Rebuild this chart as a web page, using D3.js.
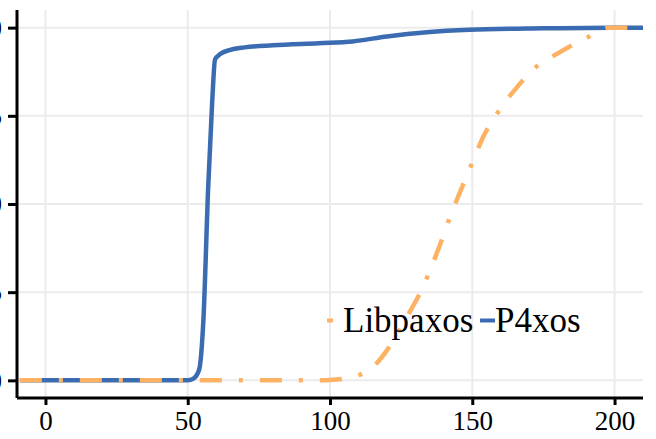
<!DOCTYPE html>
<html>
<head>
<meta charset="utf-8">
<script src="https://cdn.jsdelivr.net/npm/d3@7"></script>
<style>
  html, body { margin: 0; padding: 0; background: #fff; }
  svg { display: block; font-family: "Liberation Serif", "Times New Roman", serif; }
</style>
</head>
<body>
<div id="chart"></div>
<script>
// latency CDF values
const seriesNames = ['Libpaxos', 'P4xos'];

const p4xosX = [-9, 50, 52, 54, 55.5, 57.2, 58.6, 59.6, 61.4, 65, 70, 80, 96, 108, 120, 134, 149, 175, 199, 210];
const p4xosY = [0, 0, 0.005, 0.03, 0.17, 0.55, 0.79, 0.91, 0.925, 0.937, 0.944, 0.95, 0.956, 0.961, 0.975, 0.987, 0.994, 0.998, 1.0, 1.0];

const libpaxosX = [-9, 95, 100, 108, 115, 120, 127, 131.6, 137.5, 143, 150, 153.7, 159.6, 165.6, 171.2, 180.7, 190, 198, 210];
const libpaxosY = [0, 0, 0.001, 0.01, 0.037, 0.085, 0.18, 0.247, 0.36, 0.48, 0.617, 0.688, 0.767, 0.83, 0.88, 0.93, 0.97, 1.0, 1.0];

const xTicks = [0, 50, 100, 150, 200];
const yTicks = [0, 0.25, 0.5, 0.75, 1];
const yTickLabels = ['0.00', '0.25', '0.50', '0.75', '1.00'];

const colors = { Libpaxos: '#fdb163', P4xos: '#3b6bb1' };

const width = 656, height = 439;
const margin = { top: 10, right: 13, bottom: 41, left: 17 };

const svg = d3.select('#chart').append('svg')
  .attr('width', width)
  .attr('height', height);

const xScale = d3.scaleLinear()
  .domain([-10, 210])
  .range([margin.left, width - margin.right]);

const yScale = d3.scaleLinear()
  .domain([-0.05, 1.05])
  .range([height - margin.bottom, margin.top]);

// grid
const grid = svg.append('g');
grid.selectAll('.vgrid')
  .data(xTicks)
  .join('line')
  .attr('x1', d => xScale(d)).attr('x2', d => xScale(d))
  .attr('y1', yScale(-0.05)).attr('y2', yScale(1.05))
  .attr('stroke', '#ebebeb').attr('stroke-width', 2);
grid.selectAll('.hgrid')
  .data(yTicks)
  .join('line')
  .attr('x1', xScale(-10)).attr('x2', xScale(210))
  .attr('y1', d => yScale(d)).attr('y2', d => yScale(d))
  .attr('stroke', '#ebebeb').attr('stroke-width', 2);

const line = d3.line()
  .x(d => xScale(d[0]))
  .y(d => yScale(d[1]))
  .curve(d3.curveMonotoneX);

const p4xosData = d3.zip(p4xosX, p4xosY);
const libpaxosData = d3.zip(libpaxosX, libpaxosY);

svg.append('path')
  .datum(p4xosData)
  .attr('d', line)
  .attr('fill', 'none')
  .attr('stroke', colors.P4xos)
  .attr('stroke-width', 4.5);

svg.append('path')
  .datum(libpaxosData)
  .attr('d', line)
  .attr('fill', 'none')
  .attr('stroke', colors.Libpaxos)
  .attr('stroke-width', 4.5)
  .attr('stroke-dasharray', '22 17 4 17');

// axes
const xAxis = d3.axisBottom(xScale).tickValues(xTicks).tickSize(7).tickPadding(6);
const yAxis = d3.axisLeft(yScale).tickValues(yTicks).tickSize(9).tickPadding(6)
  .tickFormat((d, i) => yTickLabels[i]);

const xAxisG = svg.append('g')
  .attr('transform', `translate(0,${height - margin.bottom})`)
  .call(xAxis);
const yAxisG = svg.append('g')
  .attr('transform', `translate(${margin.left},0)`)
  .call(yAxis);

[xAxisG, yAxisG].forEach(g => {
  g.select('.domain').attr('stroke', '#000').attr('stroke-width', 3);
  g.selectAll('.tick line').attr('stroke', '#000').attr('stroke-width', 3);
  g.selectAll('.tick text')
    .attr('fill', '#000')
    .attr('font-size', 27)
    .attr('font-family', '"Liberation Serif", "Times New Roman", serif');
});
xAxisG.select('.domain').attr('d', `M${xScale(-10)},0H${xScale(210)}`);
yAxisG.select('.domain').attr('d', `M0,${yScale(1.05)}V${yScale(-0.05)}`);

// legend
const legend = svg.append('g');
const legendItems = [
  { name: 'Libpaxos', keyX: 327, keyW: 6, textX: 343 },
  { name: 'P4xos', keyX: 480, keyW: 15, textX: 495 }
];
legendItems.forEach(it => {
  legend.append('line')
    .attr('x1', it.keyX).attr('x2', it.keyX + it.keyW)
    .attr('y1', 320.5).attr('y2', 320.5)
    .attr('stroke', colors[it.name])
    .attr('stroke-width', 4);
  legend.append('text')
    .attr('x', it.textX)
    .attr('y', 332)
    .attr('font-size', 35)
    .attr('fill', '#000')
    .text(it.name);
});
</script>
</body>
</html>
